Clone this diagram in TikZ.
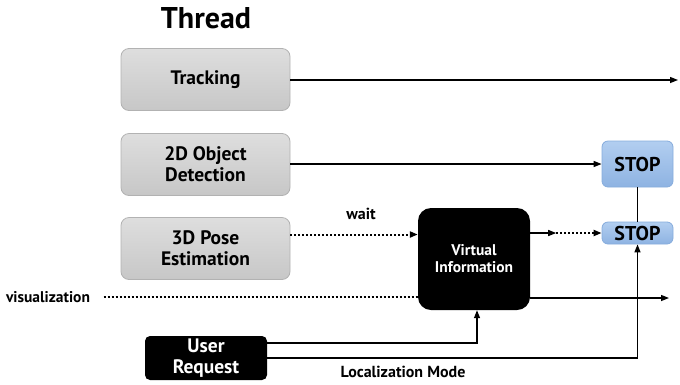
\documentclass[tikz,border=0pt]{standalone}
\usepackage{fontspec}
\setmainfont{PT Sans}
\usetikzlibrary{arrows.meta,calc}
\definecolor{stoptop}{HTML}{B2CEF0}
\definecolor{stopbot}{HTML}{8EB3E2}
\definecolor{stopline}{HTML}{86ACDC}
\begin{document}
\begin{tikzpicture}[x=1pt,y=-1pt,
  every node/.style={font=\bfseries},
  gbox/.style={draw=black!30, top color=black!13, bottom color=black!22, rounded corners=8pt,
    line width=0.8pt, align=center, minimum width=169pt, minimum height=62pt,
    font=\bfseries\fontsize{19.5}{21}\selectfont},
  sbox/.style={draw=stopline, top color=stoptop, bottom color=stopbot, rounded corners=6pt,
    line width=0.8pt, minimum width=71pt, font=\bfseries\fontsize{20}{21}\selectfont},
  kbox/.style={fill=black, text=white, align=center},
  arr/.style={line width=1.3pt, -{Triangle[length=8pt,width=6pt]}},
  darr/.style={line width=2pt, dash pattern=on 2pt off 2pt, -{Triangle[length=8pt,width=6pt]}},
  dline/.style={line width=2pt, dash pattern=on 2pt off 2pt},
  lbl/.style={font=\bfseries\fontsize{16}{18}\selectfont}
]
\useasboundingbox (0,0) rectangle (680,384);
\node[font=\bfseries\fontsize{30}{32}\selectfont] (title) at (206,18) {Thread};
\node[gbox] (track) at (205.5,79.5) {Tracking};
\node[gbox] (det) at (205.5,164.5) {2D Object\\Detection};
\node[gbox] (pose) at (205.5,248.5) {3D Pose\\Estimation};
\node[kbox, rounded corners=13pt, minimum width=112pt, minimum height=102pt,
  font=\bfseries\fontsize{15.5}{17}\selectfont] (vi) at (474,259) {Virtual\\Information};
\node[sbox, minimum height=46pt] (stop1) at (637.5,164) {STOP};
\node[sbox, minimum height=22pt, inner sep=0pt] (stop2) at (637.5,233) {STOP};
\node[kbox, rounded corners=5pt, minimum width=122pt, minimum height=44pt, inner sep=0pt,
  font=\bfseries\fontsize{19.5}{21}\selectfont] (ur) at (206,358) {User\\Request};
\node[font=\bfseries\fontsize{15.5}{17}\selectfont] (vis) at (48,297) {visualization};
\node[lbl] (wait) at (361,214) {wait};
\node[lbl] (loc) at (403,372) {Localization Mode};

\coordinate (tend) at (678,80);
\draw[arr] (track.east |- tend) -- (tend);
\draw[arr] (det.east |- stop1) -- (stop1.west);
\coordinate (p3) at ([yshift=14pt]pose.east);
\draw[darr] (p3) -- (p3 -| vi.west);
\draw[arr] (vi.east |- stop2) -- ++(26,0) coordinate (mid);
\draw[darr] (mid) -- (stop2.west);
\draw[line width=1.3pt] (stop1.south) -- (stop2.north);
\draw[dline] ([xshift=10pt]vis.east) -- (vis -| vi.west);
\coordinate (vend) at (669,298);
\draw[arr] (vi.east |- vend) -- (vend);
\draw[arr] ([yshift=15pt]ur.east) -| ([xshift=3pt]vi.south);
\draw[arr] ([yshift=0pt]ur.east) -| (stop2.south);
\end{tikzpicture}
\end{document}
